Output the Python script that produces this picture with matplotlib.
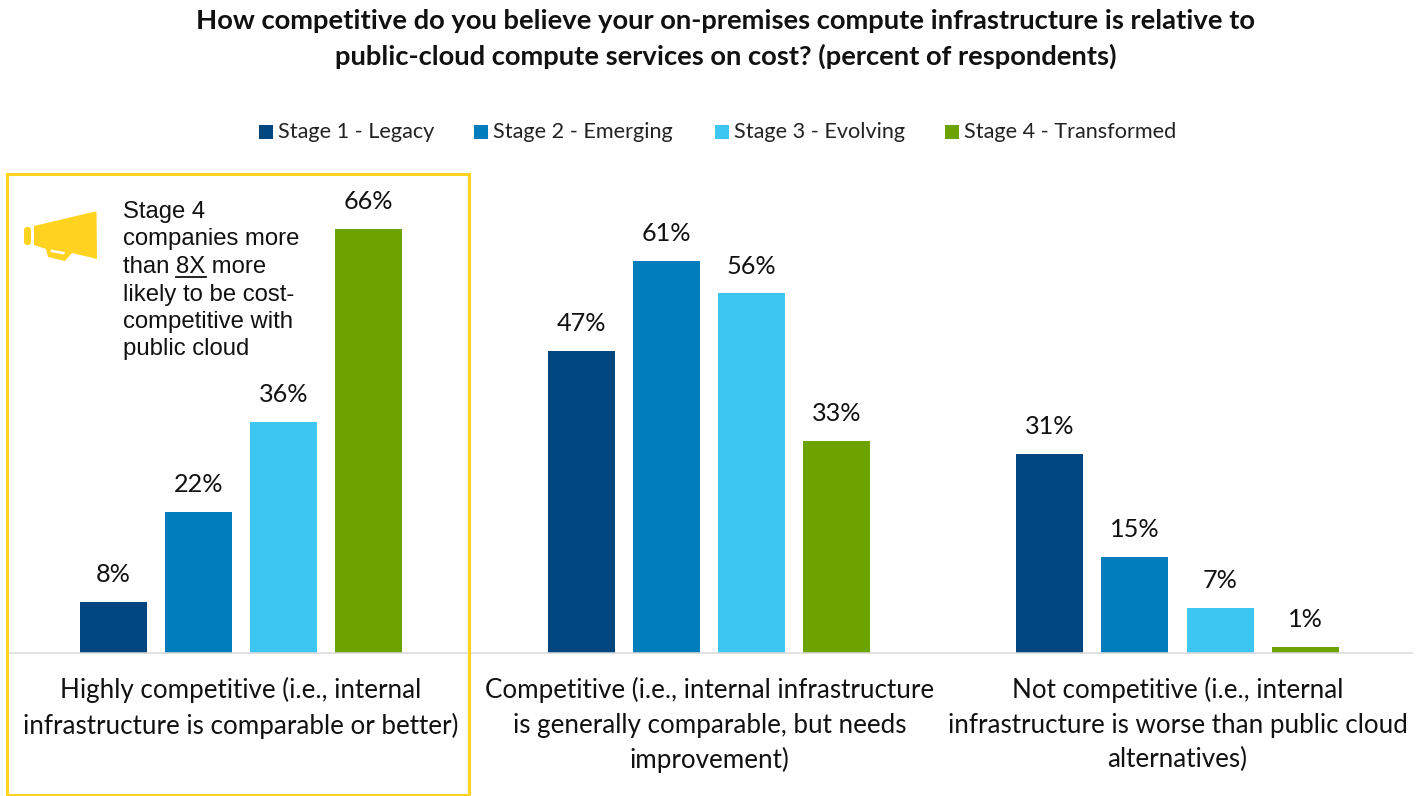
import numpy as np
import matplotlib

matplotlib.use('Agg')
import matplotlib.pyplot as plt
from matplotlib.patches import FancyBboxPatch, Polygon, Rectangle
from matplotlib.transforms import Affine2D

categories = [
    'Highly competitive (i.e., internal\ninfrastructure is comparable or better)',
    'Competitive (i.e., internal infrastructure\nis generally comparable, but needs\nimprovement)',
    'Not competitive (i.e., internal\ninfrastructure is worse than public cloud\nalternatives)',
]
stages = ['Stage 1 - Legacy', 'Stage 2 - Emerging', 'Stage 3 - Evolving', 'Stage 4 - Transformed']
stage_colors = ['#00467F', '#007DBA', '#3EC6F2', '#6CA300']
stage1 = [8, 47, 31]
stage2 = [22, 61, 15]
stage3 = [36, 56, 7]
stage4 = [66, 33, 1]
callout = ['Stage 4', 'companies more', 'than 8X more', 'likely to be cost-', 'competitive with', 'public cloud']
title = ('How competitive do you believe your on-premises compute infrastructure is relative to\n'
         'public-cloud compute services on cost? (percent of respondents)')

W, H = 1421, 796
FONT = 'Lato'
YELLOW = '#FFD320'

fig = plt.figure(figsize=(W / 100, H / 100), dpi=100)
# pixel coordinates with the origin at the top left, for the furniture around the plot
px = Affine2D().scale(1, -1).translate(0, H)

ax = fig.add_axes([7 / W, (H - 653) / H, 1404.6 / W, 513.6 / H])
ax.set_xlim(-0.5, 2.5)
ax.set_ylim(0, 80)

bar_step = 85 / 468
bar_width = 67 / 468
series = [stage1, stage2, stage3, stage4]
for i, values in enumerate(series):
    x = np.arange(3) + (i - 1.5) * bar_step
    bars = ax.bar(x, values, bar_width, color=stage_colors[i])
    ax.bar_label(bars, labels=[f'{v}%' for v in values], padding=11.5,
                 fontsize=18.2, family=FONT, color='#111111')

for side in ['top', 'right', 'left']:
    ax.spines[side].set_visible(False)
ax.spines['bottom'].set_color('#D9D9D9')
ax.spines['bottom'].set_linewidth(1.1)
ax.set_yticks([])
ax.set_xticks(range(3))
ax.set_xticklabels(categories, fontsize=18.7, family=FONT, color='#111111', linespacing=1.46)
ax.tick_params(axis='x', length=0, pad=17.5)

fig.text(726 / W, 1 - 39 / H, title, ha='center', va='center', fontsize=19.75,
         fontweight='bold', family=FONT, color='#111111', linespacing=1.48)

# legend
swatch_x = [259, 474, 715, 945]
for sx, label, color in zip(swatch_x, stages, stage_colors):
    fig.add_artist(Rectangle((sx, 125), 14, 14, color=color, lw=0, transform=px))
    fig.text(sx + 19, 132, label, transform=px, ha='left', va='center', fontsize=15.6,
             family=FONT, color='#222222')

# highlight frame round the first group
fig.add_artist(Rectangle((7, 174), 461.5, 620.5, fill=False, edgecolor=YELLOW, lw=2.2, transform=px))

# megaphone icon
fig.add_artist(Polygon([(34, 226), (95, 211.5), (96.5, 212), (97, 259), (72, 253), (65, 261),
                        (48, 257), (46, 249), (34, 245)],
                       closed=True, facecolor=YELLOW, edgecolor='none', transform=px))
fig.add_artist(Polygon([(51, 249.5), (65, 252), (64, 254.5), (50.5, 252)],
                       closed=True, facecolor='white', edgecolor='none', transform=px))
fig.add_artist(FancyBboxPatch((24, 227), 7, 18, boxstyle='round,pad=0,rounding_size=3',
                              facecolor=YELLOW, edgecolor='none', transform=px))

# callout text
for i, line in enumerate(callout):
    fig.text(123, 212 + i * 27.5, line, transform=px, ha='left', va='center', fontsize=17.2,
             family='Liberation Sans', color='#111111')
fig.add_artist(plt.Line2D([176, 206], [277, 277], color='#111111', lw=1.3, transform=px))

fig.savefig('out.png', dpi=100, facecolor='white')
plt.close(fig)
